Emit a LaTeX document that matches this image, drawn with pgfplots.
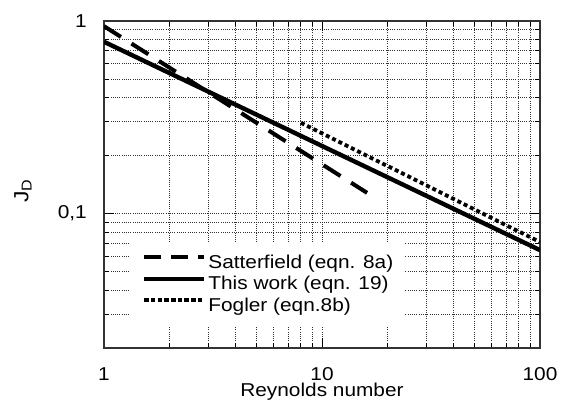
\documentclass[border=0pt]{standalone}
\usepackage{fontspec}
\setmainfont{Liberation Sans}[FakeStretch=1.12]
\usepackage{pgfplots}
\pgfplotsset{compat=1.18}
\begin{document}
\fontsize{18.6}{21}\selectfont
\begin{tikzpicture}[x=1pt,y=1pt]
\useasboundingbox (0,0) rectangle (561,402);
\begin{axis}[
  at={(104pt,54pt)}, anchor=south west,
  scale only axis, width=436pt, height=327pt,
  xmode=log, ymode=log,
  xmin=1, xmax=100, ymin=0.02, ymax=1,
  xtick={1,10,100}, xticklabels={1,10,100},
  ytick={0.1,1}, yticklabels={{0,1},1},
  minor xtick={2,3,4,5,6,7,8,9,20,30,40,50,60,70,80,90},
  minor ytick={0.03,0.04,0.05,0.06,0.07,0.08,0.09,0.2,0.3,0.4,0.5,0.6,0.7,0.8,0.9},
  /pgf/number format/assume math mode=true,
  grid=both,
  major grid style={black!80, line width=0.8pt, dash pattern=on 1pt off 1.2pt},
  minor grid style={black!80, line width=0.8pt, dash pattern=on 1pt off 1.2pt},
  axis line style={black!80, line width=1.2pt},
  tick align=inside,
  major tick length=10pt, minor tick length=5pt,
  tick style={black, line width=0.8pt},
  xticklabel style={inner sep=0pt, anchor=north, yshift=-19pt, font=\fontsize{18.6}{21}\selectfont},
  yticklabel style={inner sep=0pt, anchor=east, xshift=-17pt, font=\fontsize{18.6}{21}\selectfont},
  xlabel={Reynolds number},
  every axis x label/.style={at={(axis description cs:0.5,0)}, anchor=base, yshift=-48pt, font=\fontsize{18.6}{21}\selectfont},
  ylabel={J\textsubscript{D}},
  every axis y label/.style={at={(axis description cs:-0.1858,0.48)}, rotate=90, anchor=center, font=\fontsize{20.5}{22}\selectfont},
  legend style={at={(axis description cs:0.0596,0.321)}, anchor=north west, draw=none, fill=white,
    inner xsep=12pt, inner ysep=11pt, row sep=2.5pt,
    nodes={inner sep=0pt, text height=14pt, text depth=5pt},
    font=\fontsize{18.6}{21}\selectfont},
  legend cell align=left,
  legend image code/.code={\draw[#1] (0pt,6.6pt) -- (60pt,6.6pt); \path (62pt,0pt);},
]
\addplot[black, line width=4pt, dash pattern=on 20pt off 12.5pt, forget plot] coordinates {(1,0.94) (16.1,0.128)};
\addplot[black, line width=4.4pt, forget plot] coordinates {(1,0.78) (100,0.0645)};
\addplot[black, line width=3.8pt, dash pattern=on 4pt off 3pt, forget plot] coordinates {(8,0.296) (100,0.071)};
\addlegendimage{black, line width=3.4pt, dash pattern=on 16.5pt off 10.5pt}
\addlegendentry{Satterfield (eqn. 8a)}
\addlegendimage{black, line width=4.2pt}
\addlegendentry{This work (eqn. 19)}
\addlegendimage{black, line width=3.8pt, dash pattern=on 4.5pt off 2.2pt}
\addlegendentry{Fogler (eqn.8b)}
\end{axis}
\end{tikzpicture}
\end{document}
